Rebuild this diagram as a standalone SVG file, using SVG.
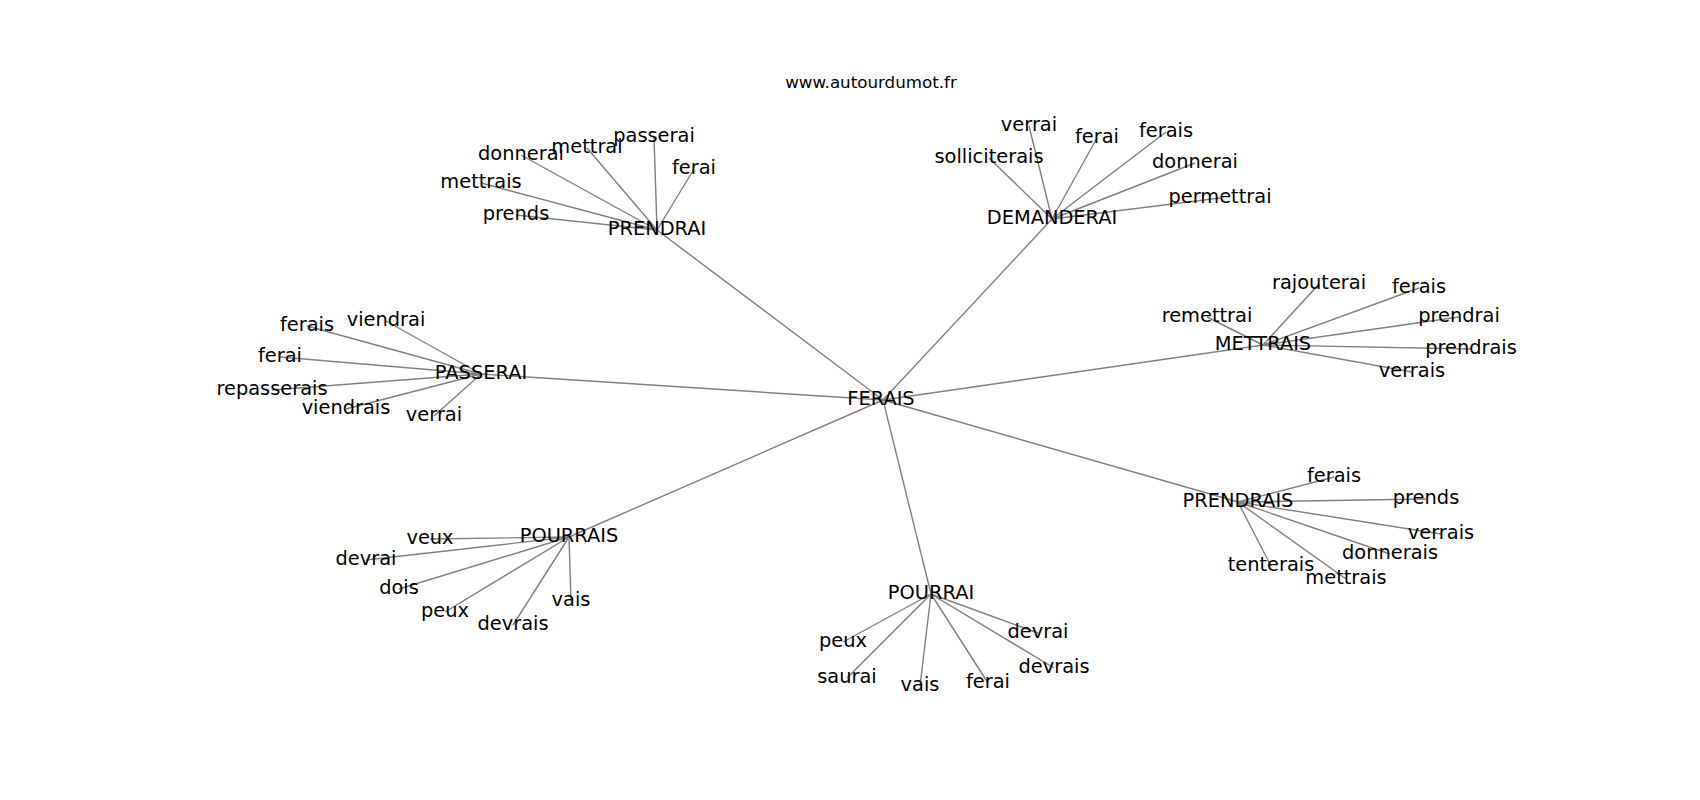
<svg xmlns="http://www.w3.org/2000/svg" width="1700" height="800" viewBox="0 0 1700 800">
<style>
.e{stroke:#808080;stroke-width:1.4;fill:none}
.n{font-family:"DejaVu Sans",sans-serif;font-size:19.4px;text-anchor:middle;fill:#000}
.t{font-family:"DejaVu Sans",sans-serif;font-size:16.7px;text-anchor:middle;fill:#000}
</style>
<rect width="1700" height="800" fill="#fff"/>
<text class="t" x="871" y="88">www.autourdumot.fr</text>
<g id="edges">
<line class="e" x1="883" y1="400" x2="657" y2="230"/>
<line class="e" x1="883" y1="400" x2="1052" y2="219"/>
<line class="e" x1="883" y1="400" x2="1263" y2="345"/>
<line class="e" x1="883" y1="400" x2="481" y2="374"/>
<line class="e" x1="883" y1="400" x2="1238" y2="502"/>
<line class="e" x1="883" y1="400" x2="569" y2="537"/>
<line class="e" x1="883" y1="400" x2="931" y2="594"/>
<line class="e" x1="657" y1="230" x2="521" y2="155"/>
<line class="e" x1="657" y1="230" x2="587" y2="148"/>
<line class="e" x1="657" y1="230" x2="654" y2="137"/>
<line class="e" x1="657" y1="230" x2="694" y2="169"/>
<line class="e" x1="657" y1="230" x2="481" y2="183"/>
<line class="e" x1="657" y1="230" x2="516" y2="215"/>
<line class="e" x1="1052" y1="219" x2="1029" y2="126"/>
<line class="e" x1="1052" y1="219" x2="1097" y2="138"/>
<line class="e" x1="1052" y1="219" x2="1166" y2="132"/>
<line class="e" x1="1052" y1="219" x2="989" y2="158"/>
<line class="e" x1="1052" y1="219" x2="1195" y2="163"/>
<line class="e" x1="1052" y1="219" x2="1220" y2="198"/>
<line class="e" x1="1263" y1="345" x2="1319" y2="284"/>
<line class="e" x1="1263" y1="345" x2="1419" y2="288"/>
<line class="e" x1="1263" y1="345" x2="1207" y2="317"/>
<line class="e" x1="1263" y1="345" x2="1459" y2="317"/>
<line class="e" x1="1263" y1="345" x2="1471" y2="349"/>
<line class="e" x1="1263" y1="345" x2="1412" y2="372"/>
<line class="e" x1="481" y1="374" x2="307" y2="326"/>
<line class="e" x1="481" y1="374" x2="386" y2="321"/>
<line class="e" x1="481" y1="374" x2="280" y2="357"/>
<line class="e" x1="481" y1="374" x2="272" y2="390"/>
<line class="e" x1="481" y1="374" x2="346" y2="409"/>
<line class="e" x1="481" y1="374" x2="434" y2="416"/>
<line class="e" x1="1238" y1="502" x2="1334" y2="477"/>
<line class="e" x1="1238" y1="502" x2="1426" y2="499"/>
<line class="e" x1="1238" y1="502" x2="1441" y2="534"/>
<line class="e" x1="1238" y1="502" x2="1390" y2="554"/>
<line class="e" x1="1238" y1="502" x2="1271" y2="566"/>
<line class="e" x1="1238" y1="502" x2="1346" y2="579"/>
<line class="e" x1="569" y1="537" x2="430" y2="539"/>
<line class="e" x1="569" y1="537" x2="366" y2="560"/>
<line class="e" x1="569" y1="537" x2="399" y2="589"/>
<line class="e" x1="569" y1="537" x2="445" y2="612"/>
<line class="e" x1="569" y1="537" x2="513" y2="625"/>
<line class="e" x1="569" y1="537" x2="571" y2="601"/>
<line class="e" x1="931" y1="594" x2="843" y2="642"/>
<line class="e" x1="931" y1="594" x2="847" y2="678"/>
<line class="e" x1="931" y1="594" x2="920" y2="686"/>
<line class="e" x1="931" y1="594" x2="988" y2="683"/>
<line class="e" x1="931" y1="594" x2="1038" y2="633"/>
<line class="e" x1="931" y1="594" x2="1054" y2="668"/>
</g>
<g id="n-ferais"><text class="n" x="881" y="405">FERAIS</text></g>
<g id="n-prendrai"><text class="n" x="657" y="235">PRENDRAI</text></g>
<g id="n-demanderai"><text class="n" x="1052" y="224">DEMANDERAI</text></g>
<g id="n-mettrais"><text class="n" x="1263" y="350">METTRAIS</text></g>
<g id="n-passerai"><text class="n" x="481" y="379">PASSERAI</text></g>
<g id="n-prendrais"><text class="n" x="1238" y="507">PRENDRAIS</text></g>
<g id="n-pourrais"><text class="n" x="569" y="542">POURRAIS</text></g>
<g id="n-pourrai"><text class="n" x="931" y="599">POURRAI</text></g>
<g id="n-p1"><text class="n" x="521" y="160">donnerai</text></g>
<g id="n-p2"><text class="n" x="587" y="153">mettrai</text></g>
<g id="n-p3"><text class="n" x="654" y="142">passerai</text></g>
<g id="n-p4"><text class="n" x="694" y="174">ferai</text></g>
<g id="n-p5"><text class="n" x="481" y="188">mettrais</text></g>
<g id="n-p6"><text class="n" x="516" y="220">prends</text></g>
<g id="n-d1"><text class="n" x="1029" y="131">verrai</text></g>
<g id="n-d2"><text class="n" x="1097" y="143">ferai</text></g>
<g id="n-d3"><text class="n" x="1166" y="137">ferais</text></g>
<g id="n-d4"><text class="n" x="989" y="163">solliciterais</text></g>
<g id="n-d5"><text class="n" x="1195" y="168">donnerai</text></g>
<g id="n-d6"><text class="n" x="1220" y="203">permettrai</text></g>
<g id="n-m1"><text class="n" x="1319" y="289">rajouterai</text></g>
<g id="n-m2"><text class="n" x="1419" y="293">ferais</text></g>
<g id="n-m3"><text class="n" x="1207" y="322">remettrai</text></g>
<g id="n-m4"><text class="n" x="1459" y="322">prendrai</text></g>
<g id="n-m5"><text class="n" x="1471" y="354">prendrais</text></g>
<g id="n-m6"><text class="n" x="1412" y="377">verrais</text></g>
<g id="n-s1"><text class="n" x="307" y="331">ferais</text></g>
<g id="n-s2"><text class="n" x="386" y="326">viendrai</text></g>
<g id="n-s3"><text class="n" x="280" y="362">ferai</text></g>
<g id="n-s4"><text class="n" x="272" y="395">repasserais</text></g>
<g id="n-s5"><text class="n" x="346" y="414">viendrais</text></g>
<g id="n-s6"><text class="n" x="434" y="421">verrai</text></g>
<g id="n-r1"><text class="n" x="1334" y="482">ferais</text></g>
<g id="n-r2"><text class="n" x="1426" y="504">prends</text></g>
<g id="n-r3"><text class="n" x="1441" y="539">verrais</text></g>
<g id="n-r4"><text class="n" x="1390" y="559">donnerais</text></g>
<g id="n-r5"><text class="n" x="1271" y="571">tenterais</text></g>
<g id="n-r6"><text class="n" x="1346" y="584">mettrais</text></g>
<g id="n-o1"><text class="n" x="430" y="544">veux</text></g>
<g id="n-o2"><text class="n" x="366" y="565">devrai</text></g>
<g id="n-o3"><text class="n" x="399" y="594">dois</text></g>
<g id="n-o4"><text class="n" x="445" y="617">peux</text></g>
<g id="n-o5"><text class="n" x="513" y="630">devrais</text></g>
<g id="n-o6"><text class="n" x="571" y="606">vais</text></g>
<g id="n-u1"><text class="n" x="843" y="647">peux</text></g>
<g id="n-u2"><text class="n" x="847" y="683">saurai</text></g>
<g id="n-u3"><text class="n" x="920" y="691">vais</text></g>
<g id="n-u4"><text class="n" x="988" y="688">ferai</text></g>
<g id="n-u5"><text class="n" x="1038" y="638">devrai</text></g>
<g id="n-u6"><text class="n" x="1054" y="673">devrais</text></g>
</svg>
